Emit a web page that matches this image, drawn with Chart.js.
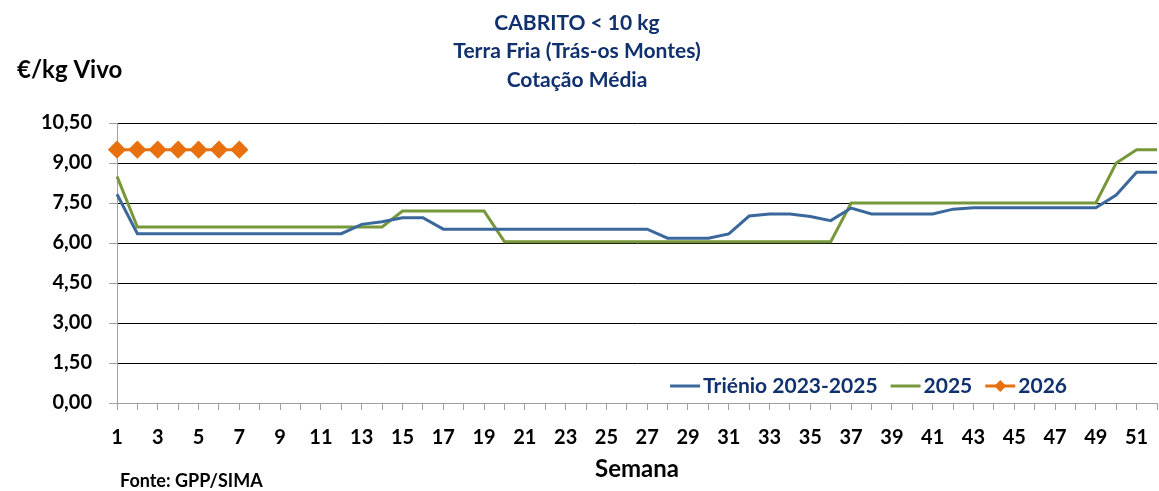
<!DOCTYPE html>
<html>
<head>
<meta charset="utf-8">
<script src="https://cdn.jsdelivr.net/npm/chart.js@4"></script>
<style>
  html, body { margin: 0; padding: 0; background: #fff; }
  #chart { display: block; }
</style>
</head>
<body>
<canvas id="chart" width="1159" height="491"></canvas>
<script>
// Data
const weeks = [1, 2, 3, 4, 5, 6, 7, 8, 9, 10, 11, 12, 13, 14, 15, 16, 17, 18, 19, 20,
  21, 22, 23, 24, 25, 26, 27, 28, 29, 30, 31, 32, 33, 34, 35, 36, 37, 38, 39, 40,
  41, 42, 43, 44, 45, 46, 47, 48, 49, 50, 51, 52];

const trienio = [7.83, 6.35, 6.35, 6.35, 6.35, 6.35, 6.35, 6.35, 6.35, 6.35, 6.35, 6.35,
  6.70, 6.80, 6.95, 6.95, 6.52, 6.52, 6.52, 6.52, 6.52, 6.52, 6.52, 6.52, 6.52, 6.52, 6.52,
  6.18, 6.18, 6.18, 6.34, 7.01, 7.09, 7.09, 6.99, 6.84, 7.31, 7.09, 7.09, 7.09, 7.09,
  7.27, 7.32, 7.32, 7.32, 7.32, 7.32, 7.32, 7.32, 7.80, 8.65, 8.65];

const year2025 = [8.50, 6.60, 6.60, 6.60, 6.60, 6.60, 6.60, 6.60, 6.60, 6.60, 6.60, 6.60,
  6.60, 6.60, 7.20, 7.20, 7.20, 7.20, 7.20, 6.05, 6.05, 6.05, 6.05, 6.05, 6.05, 6.05,
  6.05, 6.05, 6.05, 6.05, 6.05, 6.05, 6.05, 6.05, 6.05, 6.05, 7.50, 7.50, 7.50, 7.50,
  7.50, 7.50, 7.50, 7.50, 7.50, 7.50, 7.50, 7.50, 7.50, 9.00, 9.50, 9.50];

const year2026 = [9.50, 9.50, 9.50, 9.50, 9.50, 9.50, 9.50];

const titleLines = ['CABRITO < 10 kg', 'Terra Fria (Trás-os Montes)', 'Cotação Média'];
const seriesNames = ['Triénio 2023-2025', '2025', '2026'];

// Colours
const navy = '#10306e';
const blue = '#3b689c';
const green = '#77983a';
const orange = '#e8700e';
const axisGrey = '#a0a0a0';

// Texts and legend drawn on top of the chart
const chartText = {
  id: 'chartText',
  afterDraw(chart) {
    const ctx = chart.ctx;
    ctx.save();
    ctx.textBaseline = 'middle';

    ctx.fillStyle = navy;
    ctx.font = 'bold 21px Lato';
    ctx.textAlign = 'center';
    titleLines.forEach((t, i) => ctx.fillText(t, 577, 23 + i * 28.5));

    ctx.fillStyle = '#000';
    ctx.font = 'bold 24px Lato';
    ctx.textAlign = 'left';
    ctx.fillText('€/kg Vivo', 17, 70);

    ctx.textAlign = 'center';
    ctx.fillText('Semana', 637, 469);

    ctx.font = 'bold 18px Lato';
    ctx.textAlign = 'left';
    ctx.fillText('Fonte: GPP/SIMA', 120, 481);

    // legend, right aligned inside the plot
    ctx.font = 'bold 21px Lato';
    const items = chart.data.datasets;
    const widths = items.map(d => ctx.measureText(d.label).width);
    const total = widths.reduce((a, w) => a + 30 + 3 + w, 0) + 13 * (items.length - 1);
    let x = 1067 - total;
    const y = 386;
    items.forEach((d, i) => {
      ctx.strokeStyle = d.borderColor;
      ctx.lineWidth = 3;
      ctx.beginPath();
      ctx.moveTo(x, y);
      ctx.lineTo(x + 30, y);
      ctx.stroke();
      if (d.pointRadius > 0) {
        ctx.fillStyle = d.pointBackgroundColor;
        ctx.beginPath();
        ctx.moveTo(x + 15, y - 6);
        ctx.lineTo(x + 21, y);
        ctx.lineTo(x + 15, y + 6);
        ctx.lineTo(x + 9, y);
        ctx.closePath();
        ctx.fill();
      }
      ctx.fillStyle = navy;
      ctx.fillText(d.label, x + 33, y);
      x += 33 + widths[i] + 13;
    });
    ctx.restore();
  }
};

new Chart('chart', {
  type: 'line',
  data: {
    labels: weeks,
    datasets: [
      {
        label: seriesNames[0],
        data: trienio,
        borderColor: blue,
        borderWidth: 3,
        pointRadius: 0,
        tension: 0
      },
      {
        label: seriesNames[1],
        data: year2025,
        borderColor: green,
        borderWidth: 3,
        pointRadius: 0,
        tension: 0
      },
      {
        label: seriesNames[2],
        data: year2026,
        borderColor: orange,
        backgroundColor: orange,
        pointBackgroundColor: orange,
        pointBorderColor: orange,
        borderWidth: 3,
        pointStyle: 'rectRot',
        pointRadius: 7,
        tension: 0
      }
    ]
  },
  options: {
    responsive: false,
    animation: false,
    layout: { autoPadding: false, padding: { left: 0, right: 2, top: 123, bottom: 0 } },
    plugins: {
      legend: { display: false },
      title: { display: false },
      tooltip: { enabled: false }
    },
    scales: {
      x: {
        offset: false,
        afterFit: scale => {
          scale.height = 88;
          scale.paddingLeft = 0;
          scale.paddingRight = 0;
        },
        grid: {
          drawOnChartArea: false,
          tickLength: 7,
          tickColor: axisGrey
        },
        border: { color: axisGrey, width: 1 },
        ticks: {
          autoSkip: false,
          maxRotation: 0,
          padding: 16,
          color: '#000',
          font: { family: 'Lato', weight: 'bold', size: 20 },
          callback: function (val, i) {
            return i % 2 === 0 ? this.getLabelForValue(val) : '';
          }
        }
      },
      y: {
        min: 0,
        max: 10.5,
        afterFit: scale => { scale.width = 117; },
        grid: {
          color: ctx => (ctx.tick && ctx.tick.value === 0 ? axisGrey : '#000'),
          tickLength: 8,
          tickColor: axisGrey
        },
        border: { color: axisGrey, width: 1 },
        ticks: {
          stepSize: 1.5,
          padding: 17,
          color: '#000',
          font: { family: 'Lato', weight: 'bold', size: 20 },
          callback: v => v.toFixed(2).replace('.', ',')
        }
      }
    }
  },
  plugins: [chartText]
});
</script>
</body>
</html>
